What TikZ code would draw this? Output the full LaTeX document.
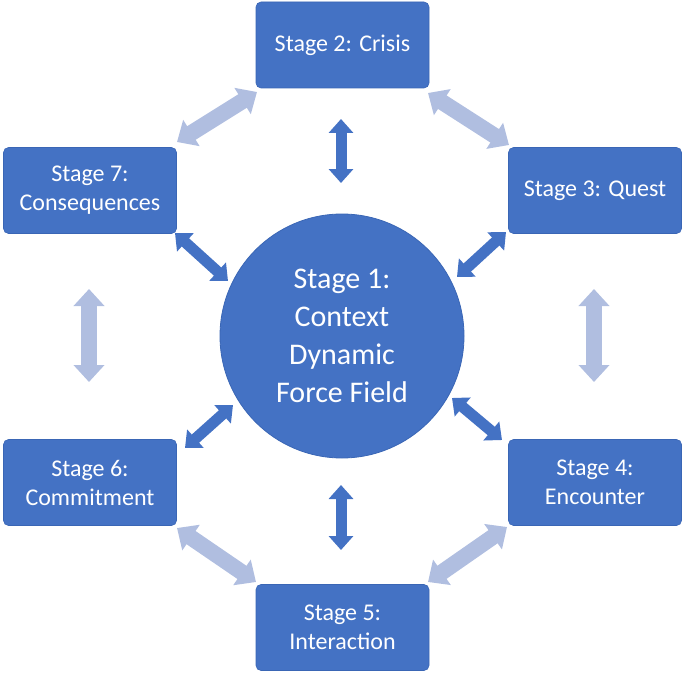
\documentclass[tikz,border=0pt]{standalone}
\usepackage{fontspec}
\setmainfont{Carlito}
\usetikzlibrary{arrows.meta}
\definecolor{boxblue}{HTML}{4472C4}
\definecolor{edgeblue}{HTML}{3A66B5}
\definecolor{lightarr}{RGB}{176,190,224}
\tikzset{
  stagebox/.style={rectangle, rounded corners=5pt, fill=boxblue, draw=edgeblue, line width=0.6pt,
    minimum width=173pt, minimum height=86pt, text=white, align=center,
    font=\fontsize{24pt}{29pt}\selectfont, inner sep=0pt},
  hub/.style={circle, fill=boxblue, draw=edgeblue, line width=0.8pt, minimum size=244pt,
    text=white, align=center, font=\fontsize{30pt}{38pt}\selectfont, inner sep=0pt},
  darr/.style={draw=boxblue, line width=11pt,
    {Triangle[width=24pt,length=14pt]}-{Triangle[width=24pt,length=14pt]}},
  larr/.style={draw=lightarr, line width=16pt,
    {Triangle[width=30pt,length=17pt]}-{Triangle[width=30pt,length=17pt]}}
}
\begin{document}
\begin{tikzpicture}[x=1pt,y=-1pt]
\useasboundingbox (0,0) rectangle (685,674);
% nodes
\node[stagebox] (s2) at (342.5,45) {Stage 2: Crisis};
\node[stagebox] (s7) at (90,190.5) {Stage 7:\\Consequences};
\node[stagebox] (s3) at (595,190.5) {Stage 3: Quest};
\node[stagebox] (s6) at (90,482.5) {Stage 6:\\Commitment};
\node[stagebox] (s4) at (595,482.5) {Stage 4:\\Encounter};
\node[stagebox] (s5) at (342.5,627.5) {Stage 5:\\Interaction};
\node[hub] (c) at (342,336) {Stage 1:\\Context\\Dynamic\\Force Field};
% arrow end points
\coordinate (d2a) at (341,119);  \coordinate (d2b) at (341,183);
\coordinate (d5a) at (341,550);  \coordinate (d5b) at (341,485);
\coordinate (d7a) at (175,233);  \coordinate (d7b) at (228,281);
\coordinate (d3a) at (506,232);  \coordinate (d3b) at (457,277);
\coordinate (d6a) at (185,448);  \coordinate (d6b) at (233,405);
\coordinate (d4a) at (502,440);  \coordinate (d4b) at (452,398);
\coordinate (l27a) at (257,92);  \coordinate (l27b) at (177,142);
\coordinate (l23a) at (428,93);  \coordinate (l23b) at (509,145);
\coordinate (l76a) at (89,289);  \coordinate (l76b) at (89,382);
\coordinate (l34a) at (594,289); \coordinate (l34b) at (594,382);
\coordinate (l65a) at (177,528); \coordinate (l65b) at (256,582);
\coordinate (l45a) at (507,527); \coordinate (l45b) at (428,582);
% dark arrows (hub links)
\draw[darr] (d2a) -- (d2b);
\draw[darr] (d5a) -- (d5b);
\draw[darr] (d7a) -- (d7b);
\draw[darr] (d3a) -- (d3b);
\draw[darr] (d6a) -- (d6b);
\draw[darr] (d4a) -- (d4b);
% light arrows (ring links)
\draw[larr] (l27a) -- (l27b);
\draw[larr] (l23a) -- (l23b);
\draw[larr] (l76a) -- (l76b);
\draw[larr] (l34a) -- (l34b);
\draw[larr] (l65a) -- (l65b);
\draw[larr] (l45a) -- (l45b);
\end{tikzpicture}
\end{document}
